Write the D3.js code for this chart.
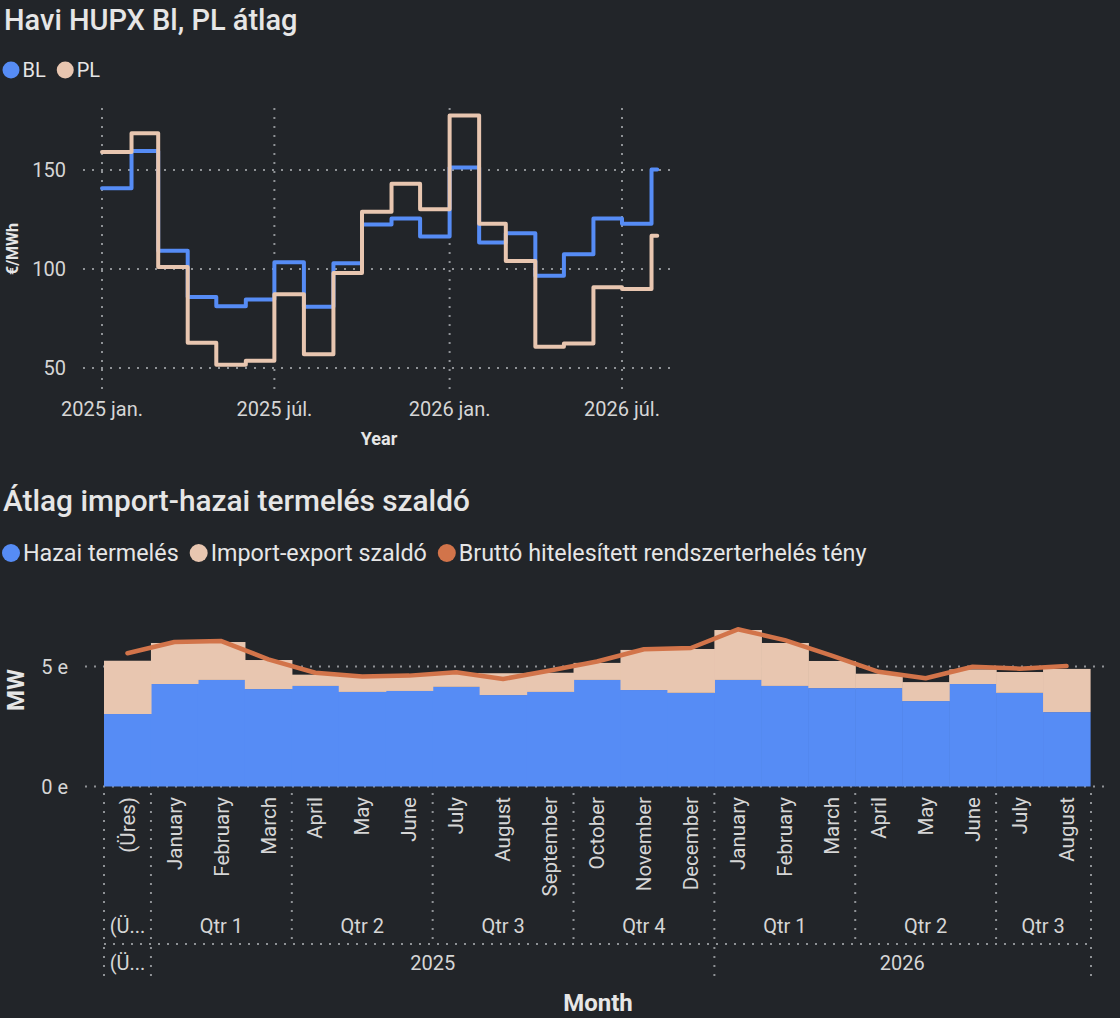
<!DOCTYPE html>
<html>
<head>
<meta charset="utf-8">
<script src="https://cdn.jsdelivr.net/npm/d3@7"></script>
<style>
  html, body { margin: 0; padding: 0; background: #222529; }
  svg { display: block; font-family: Roboto, "Noto Sans", sans-serif; }
</style>
</head>
<body>
<div id="chart"></div>
<script>
// ---- data: monthly HUPX averages (EUR/MWh) ----
var priceMonths = ["2025-01", "2025-02", "2025-03", "2025-04", "2025-05", "2025-06", "2025-07",
    "2025-08", "2025-09", "2025-10", "2025-11", "2025-12", "2026-01", "2026-02", "2026-03",
    "2026-04", "2026-05", "2026-06", "2026-07", "2026-08"];
var priceEndDate = "2026-08-07";
var blValues = [140.8, 159.6, 109.2, 85.9, 81.2, 84.6, 103.4, 80.9, 102.9, 122.5, 125.5, 116.4,
    151.2, 113.4, 118.1, 96.6, 107.4, 125.5, 122.8, 150.3];
var plValues = [159.1, 168.5, 101.0, 62.8, 51.7, 53.7, 87.2, 56.9, 98.0, 128.9, 143.0, 130.2,
    177.5, 122.8, 104.0, 60.7, 62.4, 90.8, 89.9, 116.8];
var priceTicks = [50, 100, 150];
var dateTicks = ["2025-01", "2025-07", "2026-01", "2026-07"];
var dateTickLabels = ["2025 jan.", "2025 júl.", "2026 jan.", "2026 júl."];

// ---- data: average production / import balance (MW) ----
var mixMonths = ["(Üres)", "January", "February", "March", "April", "May", "June", "July",
    "August", "September", "October", "November", "December", "January", "February", "March",
    "April", "May", "June", "July", "August"];
var mixQuarters = ["(Üres)", "Qtr 1", "Qtr 1", "Qtr 1", "Qtr 2", "Qtr 2", "Qtr 2", "Qtr 3",
    "Qtr 3", "Qtr 3", "Qtr 4", "Qtr 4", "Qtr 4", "Qtr 1", "Qtr 1", "Qtr 1", "Qtr 2", "Qtr 2",
    "Qtr 2", "Qtr 3", "Qtr 3"];
var mixYears = ["(Üres)", "2025", "2025", "2025", "2025", "2025", "2025", "2025", "2025", "2025",
    "2025", "2025", "2025", "2026", "2026", "2026", "2026", "2026", "2026", "2026", "2026"];
var hazaiValues = [3020, 4270, 4440, 4060, 4190, 3940, 3980, 4150, 3810, 3940, 4440, 4020, 3900,
    4440, 4190, 4100, 4100, 3560, 4270, 3900, 3100];
var importValues = [2220, 1710, 1580, 1210, 470, 640, 640, 580, 910, 800, 710, 1670, 1830,
    2080, 1790, 1130, 600, 790, 610, 870, 1800];
var bruttoValues = [5550, 6020, 6060, 5300, 4740, 4580, 4620, 4760, 4480, 4830, 5210, 5720, 5770,
    6550, 6100, 5450, 4780, 4510, 4990, 4910, 5020];
var mwTicks = [0, 5000];

var BLUE = "#568cf5", PEACH = "#e8c6b0", ORANGE = "#d2744a";
var TEXT = "#e6e6e6", TICK = "#d6d6d6", GRID = "#8f9296";

var W = 1120, H = 1018;
var parseMonth = d3.utcParse("%Y-%m");
var parseDay = d3.utcParse("%Y-%m-%d");

var svg = d3.select("#chart").append("svg")
    .attr("width", W)
    .attr("height", H);

svg.append("rect").attr("width", W).attr("height", H).attr("fill", "#222529");

function dotted(sel) {
    return sel.attr("stroke", GRID)
        .attr("stroke-width", 2)
        .attr("stroke-dasharray", "2,7");
}

function legend(g, items, r, fontSize) {
    var cx = 11;
    items.forEach(function(it) {
        g.append("circle").attr("cx", cx).attr("cy", 0).attr("r", r).attr("fill", it.color);
        var t = g.append("text")
            .attr("x", cx + r + 3)
            .attr("dy", "0.35em")
            .attr("fill", TEXT)
            .style("font-size", fontSize + "px")
            .text(it.label);
        cx = cx + r + 3 + t.node().getComputedTextLength() + 11 + r;
    });
}

// =========== top chart ===========
var box1 = {left: 83, right: 674, top: 108, bottom: 390};

var x1 = d3.scaleUtc()
    .domain([parseMonth("2025-01"), parseMonth("2026-07")])
    .range([102, 622]);
var y1 = d3.scaleLinear()
    .domain([50, 150])
    .range([368, 170]);

svg.append("text")
    .attr("x", 4).attr("y", 30)
    .attr("fill", TEXT)
    .style("font-size", "29px")
    .style("font-weight", "500")
    .text("Havi HUPX Bl, PL átlag");

legend(svg.append("g").attr("transform", "translate(0,70)"),
    [{label: "BL", color: BLUE}, {label: "PL", color: PEACH}], 8.5, 20);

var g1 = svg.append("g");

g1.selectAll(".hgrid").data(priceTicks).enter().append("line")
    .attr("x1", box1.left).attr("x2", box1.right)
    .attr("y1", function(d) { return y1(d); })
    .attr("y2", function(d) { return y1(d); })
    .call(dotted);

g1.selectAll(".vgrid").data(dateTicks).enter().append("line")
    .attr("x1", function(d) { return x1(parseMonth(d)); })
    .attr("x2", function(d) { return x1(parseMonth(d)); })
    .attr("y1", box1.top).attr("y2", box1.bottom)
    .call(dotted);

g1.selectAll(".ylab").data(priceTicks).enter().append("text")
    .attr("x", 66)
    .attr("y", function(d) { return y1(d); })
    .attr("dy", "0.35em")
    .attr("text-anchor", "end")
    .attr("fill", TICK)
    .style("font-size", "20px")
    .text(function(d) { return d; });

g1.selectAll(".xlab").data(dateTicks).enter().append("text")
    .attr("x", function(d) { return x1(parseMonth(d)); })
    .attr("y", 416)
    .attr("text-anchor", "middle")
    .attr("fill", TICK)
    .style("font-size", "20px")
    .text(function(d, i) { return dateTickLabels[i]; });

g1.append("text")
    .attr("x", 379).attr("y", 445)
    .attr("text-anchor", "middle")
    .attr("fill", TEXT)
    .style("font-size", "18px")
    .style("font-weight", "bold")
    .text("Year");

g1.append("text")
    .attr("transform", "translate(18,249) rotate(-90)")
    .attr("text-anchor", "middle")
    .attr("fill", TEXT)
    .style("font-size", "16px")
    .style("font-weight", "bold")
    .text("€/MWh");

function stepSeries(values) {
    var pts = priceMonths.map(function(m, i) { return {date: parseMonth(m), v: values[i]}; });
    pts.push({date: parseDay(priceEndDate), v: values[values.length - 1]});
    return pts;
}

var priceLine = d3.line()
    .x(function(d) { return x1(d.date); })
    .y(function(d) { return y1(d.v); })
    .curve(d3.curveStepAfter);

[{values: blValues, color: BLUE}, {values: plValues, color: PEACH}].forEach(function(s) {
    g1.append("path")
        .datum(stepSeries(s.values))
        .attr("fill", "none")
        .attr("stroke", s.color)
        .attr("stroke-width", 4)
        .attr("stroke-linejoin", "round")
        .attr("stroke-linecap", "round")
        .attr("d", priceLine);
});

// =========== bottom chart ===========
svg.append("text")
    .attr("x", 3).attr("y", 511)
    .attr("fill", TEXT)
    .style("font-size", "29.8px")
    .style("font-weight", "500")
    .text("Átlag import-hazai termelés szaldó");

legend(svg.append("g").attr("transform", "translate(0,553)"),
    [{label: "Hazai termelés", color: BLUE},
     {label: "Import-export szaldó", color: PEACH},
     {label: "Bruttó hitelesített rendszerterhelés tény", color: ORANGE}], 9, 23.3);

var x2 = d3.scaleBand()
    .domain(d3.range(mixMonths.length))
    .range([104, 1090])
    .padding(0);
var y2 = d3.scaleLinear()
    .domain([0, 5000])
    .range([786.5, 666.5]);
var bw = x2.bandwidth();

var g2 = svg.append("g");

g2.selectAll(".hgrid").data(mwTicks).enter().append("line")
    .attr("x1", 85).attr("x2", 1110)
    .attr("y1", function(d) { return y2(d); })
    .attr("y2", function(d) { return y2(d); })
    .call(dotted);

g2.selectAll(".ylab").data(mwTicks).enter().append("text")
    .attr("x", 68)
    .attr("y", function(d) { return y2(d); })
    .attr("dy", "0.35em")
    .attr("text-anchor", "end")
    .attr("fill", TICK)
    .style("font-size", "20px")
    .text(function(d) { return (d / 1000) + " e"; });

g2.append("text")
    .attr("transform", "translate(24,690) rotate(-90)")
    .attr("text-anchor", "middle")
    .attr("fill", TEXT)
    .style("font-size", "24px")
    .style("font-weight", "bold")
    .text("MW");

var rows = mixMonths.map(function(m, i) {
    return {i: i, hazai: hazaiValues[i], import: importValues[i]};
});
var stacked = d3.stack().keys(["hazai", "import"])(rows);
var stackColors = {hazai: BLUE, import: PEACH};

stacked.forEach(function(layer) {
    g2.selectAll(".bar-" + layer.key).data(layer).enter().append("rect")
        .attr("x", function(d) { return x2(d.data.i); })
        .attr("width", bw + 0.6)
        .attr("y", function(d) { return y2(d[1]); })
        .attr("height", function(d) { return y2(d[0]) - y2(d[1]); })
        .attr("fill", stackColors[layer.key]);
});

var loadLine = d3.line()
    .x(function(d, i) { return x2(i) + bw / 2; })
    .y(function(d) { return y2(d); });

g2.append("path")
    .datum(bruttoValues)
    .attr("fill", "none")
    .attr("stroke", ORANGE)
    .attr("stroke-width", 4.5)
    .attr("stroke-linejoin", "round")
    .attr("stroke-linecap", "round")
    .attr("d", loadLine);

// hierarchical month / quarter / year axis
g2.selectAll(".mlab").data(mixMonths).enter().append("text")
    .attr("transform", function(d, i) {
        return "translate(" + (x2(i) + bw / 2) + ",797) rotate(-90)";
    })
    .attr("dy", "0.35em")
    .attr("text-anchor", "end")
    .attr("fill", TICK)
    .style("font-size", "20.5px")
    .text(function(d) { return d; });

function groups(keys, labels) {
    var out = [];
    keys.forEach(function(k, i) {
        var last = out[out.length - 1];
        if (last && last.key === k) { last.end = i; }
        else { out.push({key: k, label: labels[i], start: i, end: i}); }
    });
    return out;
}

function fitText(sel, maxW) {
    sel.each(function() {
        var t = d3.select(this), full = t.text();
        if (this.getComputedTextLength() <= maxW) return;
        for (var n = full.length - 1; n > 0; n--) {
            t.text(full.slice(0, n) + "...");
            if (this.getComputedTextLength() <= maxW) break;
        }
    });
}

function groupRow(gs, labelY, lineTop, lineBottom) {
    gs.forEach(function(gr) {
        var a = x2(gr.start), b = x2(gr.end) + bw;
        g2.append("line")
            .attr("x1", a).attr("x2", a)
            .attr("y1", lineTop).attr("y2", lineBottom)
            .call(dotted);
        g2.append("text")
            .attr("x", (a + b) / 2)
            .attr("y", labelY)
            .attr("text-anchor", "middle")
            .attr("fill", TICK)
            .style("font-size", "20px")
            .text(gr.label)
            .call(fitText, b - a - 9);
    });
    g2.append("line")
        .attr("x1", 1091).attr("x2", 1091)
        .attr("y1", lineTop).attr("y2", lineBottom)
        .call(dotted);
}

var qKeys = mixQuarters.map(function(q, i) { return mixYears[i] + q; });
groupRow(groups(qKeys, mixQuarters), 933, 793, 940);

g2.append("line")
    .attr("x1", 104).attr("x2", 1091)
    .attr("y1", 944).attr("y2", 944)
    .call(dotted);

groupRow(groups(mixYears, mixYears), 970, 947, 982);

g2.append("text")
    .attr("x", 598).attr("y", 1011)
    .attr("text-anchor", "middle")
    .attr("fill", TEXT)
    .style("font-size", "24px")
    .style("font-weight", "bold")
    .text("Month");
</script>
</body>
</html>
